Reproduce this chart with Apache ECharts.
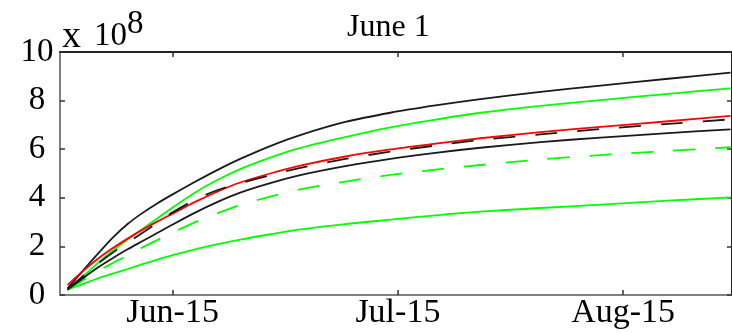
<!DOCTYPE html>
<html>
<head>
<meta charset="utf-8">
<script src="https://cdn.jsdelivr.net/npm/echarts@6/dist/echarts.min.js"></script>
<style>
html,body{margin:0;padding:0;background:#fff;}
#chart{width:732px;height:333px;}
</style>
</head>
<body>
<div id="chart"></div>
<script>
// days since June 1
var days = [0, 2, 4, 6, 8, 10, 12, 14, 17, 20, 23, 27, 31, 37, 43, 49, 55, 63, 71, 80, 88.3];
// values in units of 1e8
var blackTop    = [0.27, 0.98, 1.68, 2.35, 2.92, 3.38, 3.78, 4.14, 4.66, 5.15, 5.60, 6.13, 6.58, 7.12, 7.50, 7.80, 8.06, 8.36, 8.62, 8.90, 9.15];
var greenTop    = [0.22, 0.74, 1.30, 1.82, 2.28, 2.72, 3.16, 3.60, 4.22, 4.74, 5.18, 5.65, 6.05, 6.50, 6.90, 7.22, 7.50, 7.78, 8.02, 8.28, 8.50];
var redLine     = [0.41, 0.97, 1.48, 1.92, 2.32, 2.69, 3.03, 3.35, 3.83, 4.26, 4.63, 5.00, 5.32, 5.70, 5.99, 6.23, 6.45, 6.70, 6.92, 7.15, 7.37];
var blackDashed = [0.22, 0.76, 1.28, 1.74, 2.15, 2.56, 2.98, 3.40, 3.92, 4.32, 4.60, 4.93, 5.23, 5.60, 5.90, 6.15, 6.38, 6.61, 6.83, 7.04, 7.23];
var blackLow    = [0.22, 0.68, 1.12, 1.51, 1.88, 2.22, 2.56, 2.90, 3.39, 3.83, 4.21, 4.60, 4.93, 5.30, 5.60, 5.85, 6.06, 6.29, 6.48, 6.66, 6.82];
var greenDashed = [0.22, 0.60, 0.98, 1.31, 1.63, 1.96, 2.27, 2.57, 3.00, 3.37, 3.70, 4.05, 4.35, 4.67, 4.94, 5.16, 5.35, 5.58, 5.76, 5.93, 6.08];
var greenLow    = [0.22, 0.45, 0.68, 0.88, 1.07, 1.27, 1.46, 1.64, 1.88, 2.09, 2.28, 2.50, 2.70, 2.92, 3.10, 3.28, 3.43, 3.58, 3.72, 3.88, 4.02];

var tickDays = [14, 44, 74];
var tickLabels = ['Jun-15', 'Jul-15', 'Aug-15'];
var yTicks = [0, 2, 4, 6, 8, 10];
var titleText = 'June 1';

function pairs(arr) { return days.map(function (d, i) { return [d, arr[i]]; }); }

var FONT = 'Liberation Serif';
var chart = echarts.init(document.getElementById('chart'), null, {renderer: 'canvas'});

function mkSeries(data, color, dashed, z) {
  return {
    type: 'line', data: pairs(data), smooth: 0.3, showSymbol: false, symbol: 'none',
    lineStyle: {color: color, width: 1.8, type: dashed ? [22, 20] : 'solid'},
    z: z, animation: false
  };
}

chart.setOption({
  animation: false,
  grid: {left: 60, top: 52, width: 674, height: 243, containLabel: false},
  xAxis: [{
    type: 'value', min: -1, max: 88.5, position: 'bottom',
    splitLine: {show: false},
    axisLine: {show: true, onZero: false, lineStyle: {color: '#808080', width: 2}},
    axisTick: {show: true, inside: true, length: 5, customValues: tickDays, lineStyle: {color: '#333', width: 1.5}},
    axisLabel: {show: true, customValues: tickDays, margin: 1, color: '#000',
      fontFamily: FONT, fontSize: 34,
      formatter: function (v) { var i = tickDays.indexOf(v); return i >= 0 ? tickLabels[i] : ''; }}
  }, {
    type: 'value', min: -1, max: 88.5, position: 'top',
    splitLine: {show: false},
    axisLine: {show: true, onZero: false, lineStyle: {color: '#222', width: 2}},
    axisTick: {show: true, inside: true, length: 5, customValues: tickDays, lineStyle: {color: '#333', width: 1.5}},
    axisLabel: {show: false}
  }],
  yAxis: [{
    type: 'value', min: 0, max: 10, interval: 2, position: 'left',
    splitLine: {show: false},
    axisLine: {show: true, onZero: false, lineStyle: {color: '#808080', width: 2}},
    axisTick: {show: true, inside: true, length: 5, lineStyle: {color: '#333', width: 1.5}},
    axisLabel: {show: true, margin: 23, align: 'center', color: '#000', fontFamily: FONT, fontSize: 33,
      formatter: function (v) { return yTicks.indexOf(v) >= 0 ? String(v) : ''; }}
  }, {
    type: 'value', min: 0, max: 10, interval: 2, position: 'right',
    splitLine: {show: false},
    axisLine: {show: true, onZero: false, lineStyle: {color: '#222', width: 2}},
    axisTick: {show: true, inside: true, length: 5, lineStyle: {color: '#333', width: 1.5}},
    axisLabel: {show: false}
  }],
  graphic: [
    {type: 'text', left: 62, top: 18, style: {text: 'x', fontFamily: FONT, fontSize: 38, fill: '#000'}},
    {type: 'text', left: 94, top: 20, style: {text: '10', fontFamily: FONT, fontSize: 33, fill: '#000'}},
    {type: 'text', left: 127, top: 8, style: {text: '8', fontFamily: FONT, fontSize: 33, fill: '#000'}},
    {type: 'text', left: 347, top: 12, style: {text: titleText, fontFamily: FONT, fontSize: 32, fill: '#000'}}
  ],
  series: [
    mkSeries(greenLow, '#00ff00', false, 2),
    mkSeries(greenDashed, '#00ff00', true, 2),
    mkSeries(greenTop, '#00ff00', false, 2),
    mkSeries(blackLow, '#1a1a1a', false, 3),
    mkSeries(blackTop, '#1a1a1a', false, 3),
    mkSeries(redLine, '#ff0000', false, 4),
    mkSeries(blackDashed, '#1a1a1a', true, 5)
  ]
});
</script>
</body>
</html>
